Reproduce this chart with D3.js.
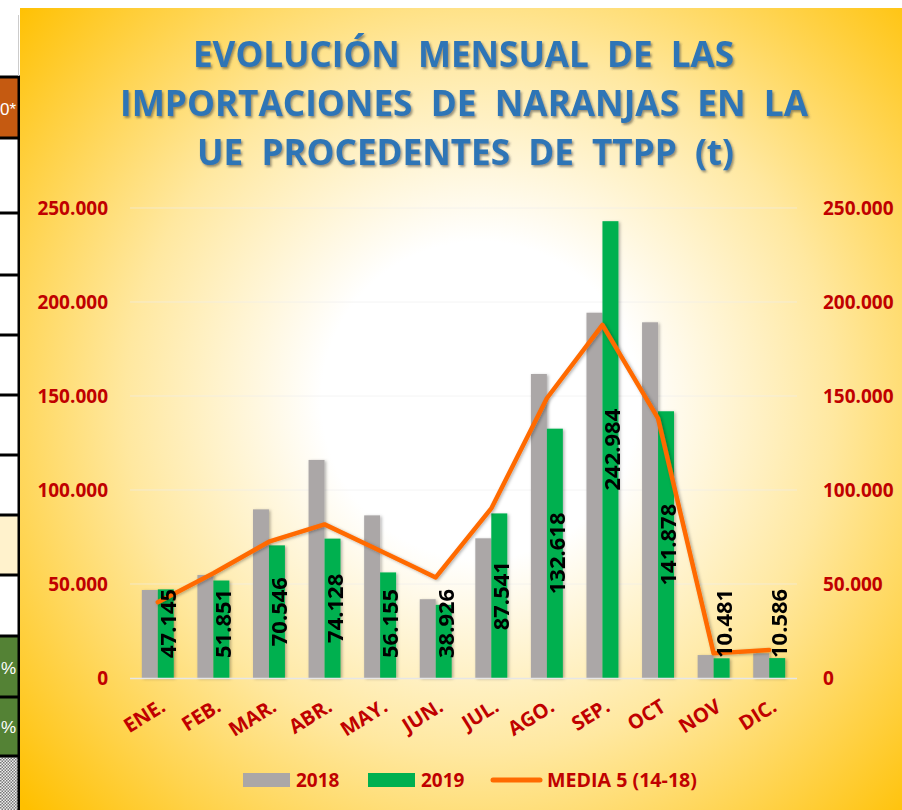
<!DOCTYPE html>
<html>
<head>
<meta charset="utf-8">
<script src="https://cdn.jsdelivr.net/npm/d3@7/dist/d3.min.js"></script>
<style>
  body { margin: 0; background: #fff; }
  svg { display: block; font-family: "Open Sans", "DejaVu Sans", sans-serif; }
</style>
</head>
<body>
<div id="chart"></div>
<script>
// chart values
const months = ['ENE.', 'FEB.', 'MAR.', 'ABR.', 'MAY.', 'JUN.', 'JUL.', 'AGO.', 'SEP.', 'OCT', 'NOV', 'DIC.'];
const values2018 = [46800, 54800, 89700, 116000, 86500, 41900, 74300, 161700, 194300, 189200, 12200, 13100];
const values2019 = [47145, 51851, 70546, 74128, 56155, 38926, 87541, 132618, 242984, 141878, 10481, 10586];
const media5 = [40300, 55700, 72500, 81700, 67700, 53500, 90200, 148800, 187800, 138100, 13100, 14900];
const yTicks = [0, 50000, 100000, 150000, 200000, 250000];
const seriesNames = ['2018', '2019'];
const lineName = 'MEDIA 5 (14-18)';
const titleLines = [
  'EVOLUCIÓN  MENSUAL  DE  LAS',
  'IMPORTACIONES  DE  NARANJAS  EN  LA',
  'UE  PROCEDENTES  DE  TTPP  (t)'
];

const width = 902, height = 810;
const red = '#C00000';
const colors = { '2018': '#ABA7A7', '2019': '#00B050' };
const orange = '#FF6A00';

const fmt = d3.formatLocale({ decimal: ',', thousands: '.', grouping: [3], currency: ['', ''] }).format(',');

const svg = d3.select('#chart')
  .append('svg')
  .attr('width', width)
  .attr('height', height);

const defs = svg.append('defs');
const grad = defs.append('radialGradient')
  .attr('id', 'bg')
  .attr('gradientUnits', 'userSpaceOnUse')
  .attr('cx', 480).attr('cy', 400).attr('r', 610);
grad.append('stop').attr('offset', 0).attr('stop-color', '#FFFFFF');
grad.append('stop').attr('offset', 0.26).attr('stop-color', '#FFFFFF');
grad.append('stop').attr('offset', 0.58).attr('stop-color', '#FFE8A0');
grad.append('stop').attr('offset', 1).attr('stop-color', '#FFC000');

const shadow = defs.append('filter').attr('id', 'shadow')
  .attr('x', '-10%').attr('y', '-10%').attr('width', '130%').attr('height', '130%');
shadow.append('feDropShadow')
  .attr('dx', 1.5).attr('dy', 2).attr('stdDeviation', 1.3)
  .attr('flood-color', '#404040').attr('flood-opacity', 0.55);

const barShadow = defs.append('filter').attr('id', 'barShadow')
  .attr('x', '-30%').attr('y', '-5%').attr('width', '170%').attr('height', '115%');
barShadow.append('feDropShadow')
  .attr('dx', 1.5).attr('dy', 1).attr('stdDeviation', 1.5)
  .attr('flood-color', '#000').attr('flood-opacity', 0.3);

// spreadsheet strip cut off at the left edge
const strip = svg.append('g');
strip.append('rect').attr('x', 0).attr('y', 0).attr('width', 20).attr('height', height).attr('fill', '#fff');
const cells = [
  { y0: 78, y1: 138, fill: '#C55A11', text: '0*' },
  { y0: 515, y1: 575, fill: '#FFF2CC' },
  { y0: 637, y1: 697, fill: '#548235', text: '%' },
  { y0: 697, y1: 755, fill: '#548235', text: '%' }
];
cells.forEach(c => {
  strip.append('rect').attr('x', 0).attr('y', c.y0).attr('width', 18).attr('height', c.y1 - c.y0).attr('fill', c.fill);
  if (c.text) {
    strip.append('text').attr('x', 16).attr('y', (c.y0 + c.y1) / 2 + 7)
      .attr('text-anchor', 'end').attr('fill', '#fff')
      .style('font-family', '"Liberation Sans Narrow", "Liberation Sans", sans-serif')
      .style('font-size', '17px').text(c.text);
  }
});
const checker = defs.append('pattern').attr('id', 'checker')
  .attr('width', 3).attr('height', 3).attr('patternUnits', 'userSpaceOnUse');
checker.append('rect').attr('width', 3).attr('height', 3).attr('fill', '#eee');
checker.append('rect').attr('width', 1.5).attr('height', 1.5).attr('fill', '#777');
checker.append('rect').attr('x', 1.5).attr('y', 1.5).attr('width', 1.5).attr('height', 1.5).attr('fill', '#777');
strip.append('rect').attr('x', 0).attr('y', 757).attr('width', 18).attr('height', 53).attr('fill', 'url(#checker)');
[77, 138, 213, 275, 335, 395, 455, 515, 575, 636, 697, 756].forEach(yy => {
  strip.append('line').attr('x1', 0).attr('x2', 20).attr('y1', yy).attr('y2', yy)
    .attr('stroke', '#000').attr('stroke-width', 3);
});
strip.append('line').attr('x1', 19).attr('x2', 19).attr('y1', 76).attr('y2', height)
  .attr('stroke', '#000').attr('stroke-width', 3);
strip.append('line').attr('x1', 18.5).attr('x2', 18.5).attr('y1', 15).attr('y2', 76)
  .attr('stroke', '#ccc').attr('stroke-width', 1);

// chart area
svg.append('rect')
  .attr('x', 20).attr('y', 8)
  .attr('width', width - 20).attr('height', height - 8)
  .attr('fill', 'url(#bg)');

// title
const title = svg.append('g').attr('filter', 'url(#shadow)');
const titlePos = [
  { x: 193, y: 67, w: 541 },
  { x: 120, y: 116, w: 688 },
  { x: 197, y: 165, w: 537 }
];
titleLines.forEach((t, i) => {
  title.append('text')
    .attr('x', titlePos[i].x).attr('y', titlePos[i].y)
    .attr('textLength', titlePos[i].w)
    .attr('lengthAdjust', 'spacingAndGlyphs')
    .attr('fill', '#2E75B6')
    .style('font-size', '35px').style('font-weight', 700)
    .style('white-space', 'pre')
    .text(t);
});

// scales
const x = d3.scaleBand().domain(months).range([130, 797]).padding(0);
const xSub = d3.scaleBand().domain(seriesNames).range([0, x.bandwidth()]).paddingInner(0).paddingOuter(0.74);
const y = d3.scaleLinear().domain([0, 250000]).range([678, 208]);

// faint gridlines
svg.append('g').selectAll('line')
  .data(yTicks.slice(1))
  .join('line')
  .attr('x1', 130).attr('x2', 797)
  .attr('y1', d => y(d)).attr('y2', d => y(d))
  .attr('stroke', '#EDEDED').attr('stroke-opacity', 0.6).attr('stroke-width', 1);

// axes
const axisStyle = g => {
  g.select('.domain').remove();
  g.selectAll('.tick line').remove();
  g.selectAll('.tick text')
    .attr('fill', red)
    .style('font-size', '19px').style('font-weight', 700)
    .style('font-family', '"Open Sans", sans-serif');
};
svg.append('g')
  .attr('transform', 'translate(130,0)')
  .call(d3.axisLeft(y).tickValues(yTicks).tickFormat(fmt).tickSize(0).tickPadding(22))
  .call(axisStyle);
svg.append('g')
  .attr('transform', 'translate(797,0)')
  .call(d3.axisRight(y).tickValues(yTicks).tickFormat(fmt).tickSize(0).tickPadding(26))
  .call(axisStyle);

// bars
const rows = months.map((m, i) => ({ month: m, '2018': values2018[i], '2019': values2019[i] }));
const barG = svg.append('g').attr('filter', 'url(#barShadow)');
barG.selectAll('g')
  .data(rows)
  .join('g')
  .attr('transform', d => `translate(${x(d.month)},0)`)
  .selectAll('rect')
  .data(d => seriesNames.map(k => ({ key: k, value: d[k] })))
  .join('rect')
  .attr('x', d => xSub(d.key))
  .attr('width', xSub.bandwidth())
  .attr('y', d => y(d.value))
  .attr('height', d => y(0) - y(d.value))
  .attr('fill', d => colors[d.key]);

// baseline
svg.append('line')
  .attr('x1', 130).attr('x2', 797)
  .attr('y1', y(0) + 0.5).attr('y2', y(0) + 0.5)
  .attr('stroke', '#E6E6E6').attr('stroke-width', 1.5);

// MEDIA 5 line
const line = d3.line()
  .x((d, i) => x(months[i]) + x.bandwidth() / 2)
  .y(d => y(d));
svg.append('path')
  .datum(media5)
  .attr('d', line)
  .attr('fill', 'none')
  .attr('stroke', orange)
  .attr('stroke-width', 4.5)
  .attr('stroke-linejoin', 'round')
  .attr('stroke-linecap', 'round')
  .attr('filter', 'url(#barShadow)');

// data labels on 2019 bars
const labels = svg.append('g').selectAll('text')
  .data(values2019)
  .join('text')
  .attr('text-anchor', 'middle')
  .attr('dominant-baseline', 'central')
  .attr('fill', '#000')
  .style('font-size', '22px').style('font-weight', 700)
  .text(d => fmt(d));
labels.each(function (d, i) {
  const len = this.getComputedTextLength();
  const cx = x(months[i]) + xSub('2019') + xSub.bandwidth() / 2 + 1;
  const cy = Math.min((y(d) + y(0)) / 2, y(0) - 20 - len / 2);
  d3.select(this).attr('transform', `translate(${cx},${cy}) rotate(-90)`);
});

// x labels
svg.append('g').selectAll('text')
  .data(months)
  .join('text')
  .attr('transform', d => `translate(${x(d) + x.bandwidth() / 2 + 9},710) rotate(-32)`)
  .attr('text-anchor', 'end')
  .attr('fill', red)
  .style('font-size', '20px').style('font-weight', 700)
  .text(d => d);

// legend
const legend = svg.append('g');
const legendY = 780;
const swatchX = [243, 368];
seriesNames.forEach((k, i) => {
  legend.append('rect')
    .attr('x', swatchX[i]).attr('y', legendY - 7)
    .attr('width', 47).attr('height', 14)
    .attr('fill', colors[k]);
  legend.append('text')
    .attr('x', swatchX[i] + 53).attr('y', legendY + 7)
    .attr('fill', red)
    .style('font-size', '19px').style('font-weight', 700)
    .text(k);
});
legend.append('line')
  .attr('x1', 493).attr('x2', 540)
  .attr('y1', legendY).attr('y2', legendY)
  .attr('stroke', orange).attr('stroke-width', 5).attr('stroke-linecap', 'round');
legend.append('text')
  .attr('x', 547).attr('y', legendY + 7)
  .attr('fill', red)
  .attr('textLength', 150).attr('lengthAdjust', 'spacingAndGlyphs')
  .style('font-size', '19px').style('font-weight', 700)
  .text(lineName);
</script>
</body>
</html>
